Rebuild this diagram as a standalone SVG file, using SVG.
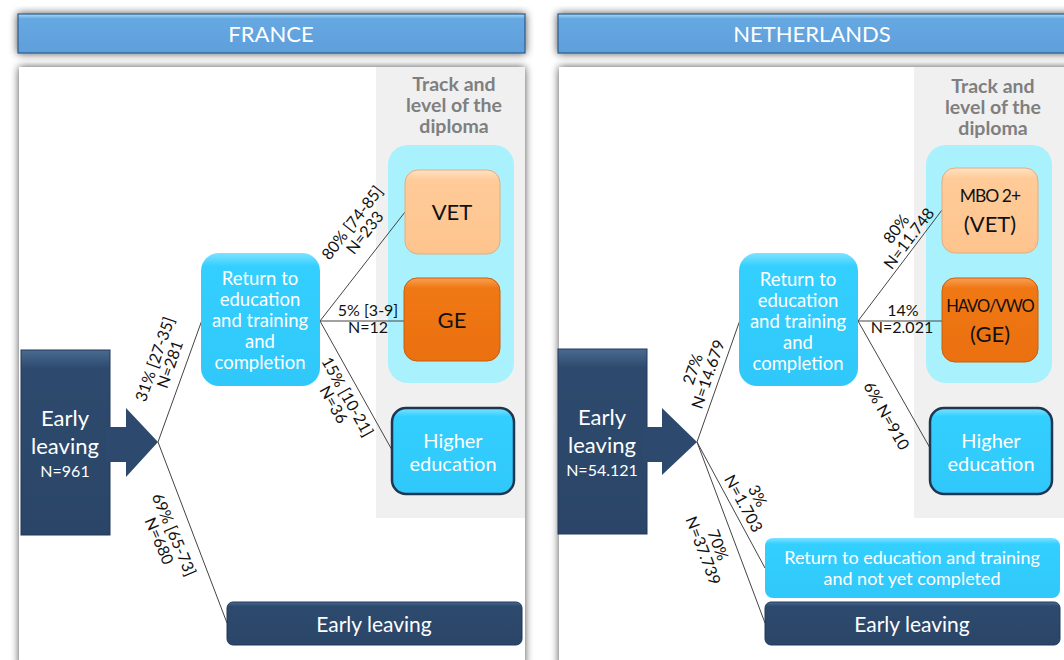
<svg xmlns="http://www.w3.org/2000/svg" width="1064" height="660" viewBox="0 0 1064 660">
<defs>
<filter id="sh" x="-10%" y="-20%" width="120%" height="140%">
<feGaussianBlur in="SourceAlpha" stdDeviation="4"/>
<feOffset dx="0" dy="0" result="b"/>
<feComponentTransfer><feFuncA type="linear" slope="0.7"/></feComponentTransfer>
<feMerge><feMergeNode/><feMergeNode in="SourceGraphic"/></feMerge>
</filter>
<linearGradient id="gHead" x1="0" y1="0" x2="0" y2="1">
<stop offset="0" stop-color="#A8DDF7"/><stop offset="0.12" stop-color="#66A8E2"/><stop offset="1" stop-color="#5F9FDB"/>
</linearGradient>
<linearGradient id="gPeach" x1="0" y1="0" x2="0" y2="1">
<stop offset="0" stop-color="#FFE2C4"/><stop offset="0.12" stop-color="#FFCB98"/><stop offset="1" stop-color="#FEC48E"/>
</linearGradient>
<linearGradient id="gOrange" x1="0" y1="0" x2="0" y2="1">
<stop offset="0" stop-color="#F9A052"/><stop offset="0.12" stop-color="#F07814"/><stop offset="1" stop-color="#EB7010"/>
</linearGradient>
<linearGradient id="gCyan" x1="0" y1="0" x2="0" y2="1">
<stop offset="0" stop-color="#7FE2FF"/><stop offset="0.1" stop-color="#33CFFF"/><stop offset="1" stop-color="#30C8FA"/>
</linearGradient>
<linearGradient id="gNavy" x1="0" y1="0" x2="0" y2="1">
<stop offset="0" stop-color="#4A6A90"/><stop offset="0.1" stop-color="#2D4A6E"/><stop offset="1" stop-color="#2A4567"/>
</linearGradient>
<style>
text{font-family:Lato,"Liberation Sans",sans-serif;}
.hdr{fill:url(#gHead);stroke:#2E5B86;stroke-width:1.2;}
.hdrt{fill:#fff;font-size:22px;text-anchor:middle;}
.panel{fill:#fff;}
.col{fill:#F0F0F0;}
.ttl{fill:#7F7F7F;font-size:19.5px;font-weight:bold;text-anchor:middle;}
.cont{fill:#A9F1FC;}
.peach{fill:url(#gPeach);stroke:#E0AE80;stroke-width:1;}
.orange{fill:url(#gOrange);stroke:#C75F0C;stroke-width:1;}
.cyan{fill:url(#gCyan);}
.hi{fill:url(#gCyan);stroke:#1F3550;stroke-width:2.5;}
.navy{fill:url(#gNavy);stroke:#22395A;stroke-width:1;}
.w{fill:#fff;text-anchor:middle;}
.k{fill:#111;text-anchor:middle;}
.lbl{fill:#111;font-size:16px;text-anchor:middle;}
.con{stroke:#444;stroke-width:1;fill:none;}
</style>
</defs>

<!-- FRANCE panel -->
<g id="france-header">
<rect x="18" y="14" width="507" height="39" class="hdr" filter="url(#sh)"/>
<text x="271" y="42" class="hdrt">FRANCE</text>
</g>
<g id="france-panel">
<rect x="19" y="67" width="506" height="600" class="panel" filter="url(#sh)"/>
<rect x="376" y="67" width="149" height="451" class="col"/>
<text class="ttl"><tspan x="454" y="91">Track and</tspan><tspan x="454" y="112">level of the</tspan><tspan x="454" y="133">diploma</tspan></text>
<rect x="388" y="145" width="126" height="238" rx="20" class="cont"/>
</g>

<!-- NETHERLANDS panel -->
<g id="nl-header">
<rect x="558" y="14" width="520" height="39" class="hdr" filter="url(#sh)"/>
<text x="812" y="42" class="hdrt">NETHERLANDS</text>
</g>
<g id="nl-panel">
<rect x="559" y="67" width="520" height="600" class="panel" filter="url(#sh)"/>
<rect x="914" y="67" width="150" height="451" class="col"/>
<text class="ttl"><tspan x="993" y="93">Track and</tspan><tspan x="993" y="114">level of the</tspan><tspan x="993" y="135">diploma</tspan></text>
<rect x="926" y="145" width="126" height="238" rx="20" class="cont"/>
</g>

<!-- connectors -->
<g id="connectors">
<line x1="158" y1="442" x2="202" y2="320" class="con"/>
<line x1="158" y1="442" x2="227" y2="623" class="con"/>
<line x1="320" y1="321" x2="405" y2="212" class="con"/>
<line x1="320" y1="321" x2="404" y2="321" class="con"/>
<line x1="320" y1="321" x2="392" y2="450" class="con"/>
<line x1="697" y1="442" x2="740" y2="320" class="con"/>
<line x1="697" y1="442" x2="765" y2="568" class="con"/>
<line x1="697" y1="442" x2="765" y2="623" class="con"/>
<line x1="858" y1="321" x2="942" y2="210" class="con"/>
<line x1="858" y1="321" x2="942" y2="321" class="con"/>
<line x1="858" y1="321" x2="930" y2="448" class="con"/>
</g>

<!-- connector labels -->
<g id="labels">
<g transform="translate(163,362) rotate(-70.6)"><text class="lbl"><tspan x="0" y="-3">31% [27-35]</tspan><tspan x="0" y="13">N=281</tspan></text></g>
<g transform="translate(166,538) rotate(66.9)"><text class="lbl"><tspan x="0" y="-3">69% [65-73]</tspan><tspan x="0" y="13">N=680</tspan></text></g>
<g transform="translate(359,228) rotate(-52)"><text class="lbl"><tspan x="0" y="-3">80% [74-85]</tspan><tspan x="0" y="13">N=233</tspan></text></g>
<text class="lbl"><tspan x="368" y="316">5% [3-9]</tspan><tspan x="368" y="333">N=12</tspan></text>
<g transform="translate(340,401) rotate(60.8)"><text class="lbl"><tspan x="0" y="-3">15% [10-21]</tspan><tspan x="0" y="13">N=36</tspan></text></g>

<g transform="translate(701,372) rotate(-71)"><text class="lbl"><tspan x="0" y="-3">27%</tspan><tspan x="0" y="13">N=14.679</tspan></text></g>
<g transform="translate(903,234) rotate(-52.9)"><text class="lbl"><tspan x="0" y="-3">80%</tspan><tspan x="0" y="13">N=11.748</tspan></text></g>
<text class="lbl"><tspan x="903" y="316">14%</tspan><tspan x="902" y="333">N=2.021</tspan></text>
<g transform="translate(886,416) rotate(60.4)"><text class="lbl" x="0" y="5">6% N=910</text></g>
<g transform="translate(750,500) rotate(61.6)"><text class="lbl"><tspan x="0" y="-3">3%</tspan><tspan x="0" y="13">N=1.703</tspan></text></g>
<g transform="translate(710,548) rotate(69.4)"><text class="lbl"><tspan x="0" y="-3">70%</tspan><tspan x="0" y="13">N=37.739</tspan></text></g>
</g>

<!-- FRANCE nodes -->
<g id="fr-early-start">
<rect x="21" y="350" width="89" height="185" class="navy"/>
<path d="M106,427 L126,427 L126,408 L158,442 L126,477 L126,462 L106,462 Z" fill="#2D4A6E"/>
<text class="w"><tspan x="65" y="426" font-size="22">Early</tspan><tspan x="65" y="454" font-size="22">leaving</tspan><tspan x="65" y="477" font-size="16">N=961</tspan></text>
</g>
<g id="fr-return">
<rect x="201" y="253" width="119" height="133" rx="18" class="cyan"/>
<text class="w" font-size="18.5"><tspan x="260" y="285">Return to</tspan><tspan x="260" y="306">education</tspan><tspan x="260" y="327">and training</tspan><tspan x="260" y="348">and</tspan><tspan x="260" y="369">completion</tspan></text>
</g>
<g id="fr-vet">
<rect x="405" y="170" width="95" height="84" rx="13" class="peach"/>
<text x="452" y="220" class="k" font-size="22">VET</text>
</g>
<g id="fr-ge">
<rect x="404" y="278" width="96" height="83" rx="13" class="orange"/>
<text x="452" y="328" class="k" font-size="22">GE</text>
</g>
<g id="fr-higher">
<rect x="392" y="408" width="122" height="86" rx="14" class="hi"/>
<text class="w" font-size="20"><tspan x="453" y="448">Higher</tspan><tspan x="453" y="471">education</tspan></text>
</g>
<g id="fr-early-end">
<rect x="227" y="602" width="295" height="43" rx="6" class="navy"/>
<text x="374" y="632" class="w" font-size="21">Early leaving</text>
</g>

<!-- NETHERLANDS nodes -->
<g id="nl-early-start">
<rect x="558" y="349" width="89" height="185" class="navy"/>
<path d="M643,427 L662,427 L662,408 L697,442 L662,475 L662,462 L643,462 Z" fill="#2D4A6E"/>
<text class="w"><tspan x="602" y="425" font-size="22">Early</tspan><tspan x="602" y="453" font-size="22">leaving</tspan><tspan x="602" y="476" font-size="16">N=54.121</tspan></text>
</g>
<g id="nl-return">
<rect x="739" y="253" width="119" height="133" rx="18" class="cyan"/>
<text class="w" font-size="18.5"><tspan x="798" y="286">Return to</tspan><tspan x="798" y="307">education</tspan><tspan x="798" y="328">and training</tspan><tspan x="798" y="349">and</tspan><tspan x="798" y="370">completion</tspan></text>
</g>
<g id="nl-vet">
<rect x="942" y="168" width="96" height="85" rx="13" class="peach"/>
<text class="k"><tspan x="990" y="202" font-size="17.5" letter-spacing="-1">MBO 2+</tspan><tspan x="990" y="232" font-size="22">(VET)</tspan></text>
</g>
<g id="nl-ge">
<rect x="942" y="278" width="96" height="84" rx="13" class="orange"/>
<text class="k"><tspan x="990" y="312" font-size="16.5" letter-spacing="-1">HAVO/VWO</tspan><tspan x="990" y="342" font-size="22">(GE)</tspan></text>
</g>
<g id="nl-higher">
<rect x="930" y="408" width="122" height="86" rx="14" class="hi"/>
<text class="w" font-size="20"><tspan x="991" y="448">Higher</tspan><tspan x="991" y="471">education</tspan></text>
</g>
<g id="nl-return-notyet">
<rect x="765" y="538" width="295" height="60" rx="8" class="cyan"/>
<text class="w" font-size="18"><tspan x="912" y="564">Return to education and training</tspan><tspan x="912" y="585">and not yet completed</tspan></text>
</g>
<g id="nl-early-end">
<rect x="765" y="602" width="295" height="43" rx="6" class="navy"/>
<text x="912" y="632" class="w" font-size="21">Early leaving</text>
</g>
</svg>
